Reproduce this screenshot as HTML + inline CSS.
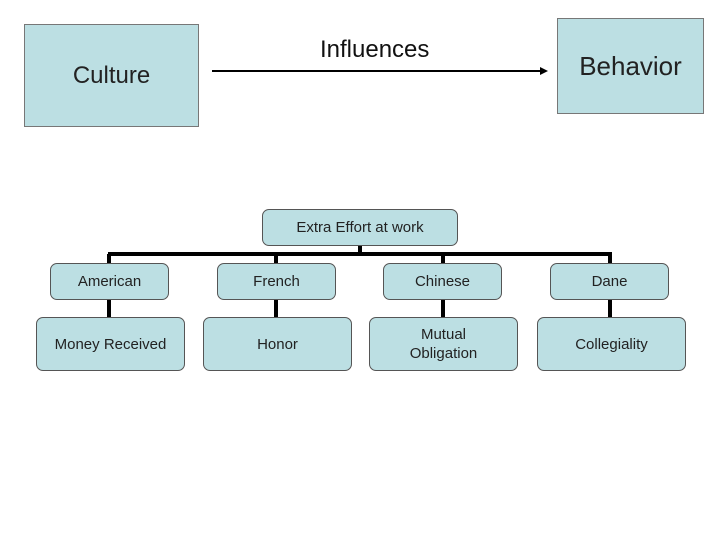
<!DOCTYPE html><html><head><style>
body{margin:0;width:720px;height:540px;background:#fff;position:relative;font-family:"Liberation Sans",sans-serif;overflow:hidden}
.b{position:absolute;background:#bcdfe3;border:1px solid #555;box-sizing:border-box;display:flex;align-items:center;justify-content:center;text-align:center;color:#222}
.r{border-radius:7px;font-size:15px;line-height:19px}
.l{position:absolute;background:#000}
</style></head><body>
<div class="b" style="left:24px;top:24px;width:175px;height:103px;font-size:24px;border-color:#777">Culture</div>
<div class="b" style="left:557px;top:18px;width:147px;height:96px;font-size:26px;border-color:#777">Behavior</div>
<div style="position:absolute;left:320px;top:36px;font-size:24px;color:#111">Influences</div>
<div class="l" style="left:212px;top:70px;width:332px;height:2px"></div>
<svg style="position:absolute;left:540px;top:66px" width="10" height="10"><polygon points="0,1 8,5 0,9" fill="#000"/></svg>
<div class="l" style="left:108px;top:252px;width:504px;height:4px"></div>
<div class="l" style="left:358px;top:244px;width:4px;height:10px"></div>
<div class="b r" style="left:262px;top:209px;width:196px;height:37px">Extra Effort at work</div>
<div class="l" style="left:107px;top:254px;width:4px;height:64px"></div>
<div class="l" style="left:274px;top:254px;width:4px;height:64px"></div>
<div class="l" style="left:441px;top:254px;width:4px;height:64px"></div>
<div class="l" style="left:608px;top:254px;width:4px;height:64px"></div>
<div class="b r" style="left:50px;top:263px;width:119px;height:37px">American</div>
<div class="b r" style="left:217px;top:263px;width:119px;height:37px">French</div>
<div class="b r" style="left:383px;top:263px;width:119px;height:37px">Chinese</div>
<div class="b r" style="left:550px;top:263px;width:119px;height:37px">Dane</div>
<div class="b r" style="left:36px;top:317px;width:149px;height:54px">Money Received</div>
<div class="b r" style="left:203px;top:317px;width:149px;height:54px">Honor</div>
<div class="b r" style="left:369px;top:317px;width:149px;height:54px">Mutual<br>Obligation</div>
<div class="b r" style="left:537px;top:317px;width:149px;height:54px">Collegiality</div>
</body></html>
